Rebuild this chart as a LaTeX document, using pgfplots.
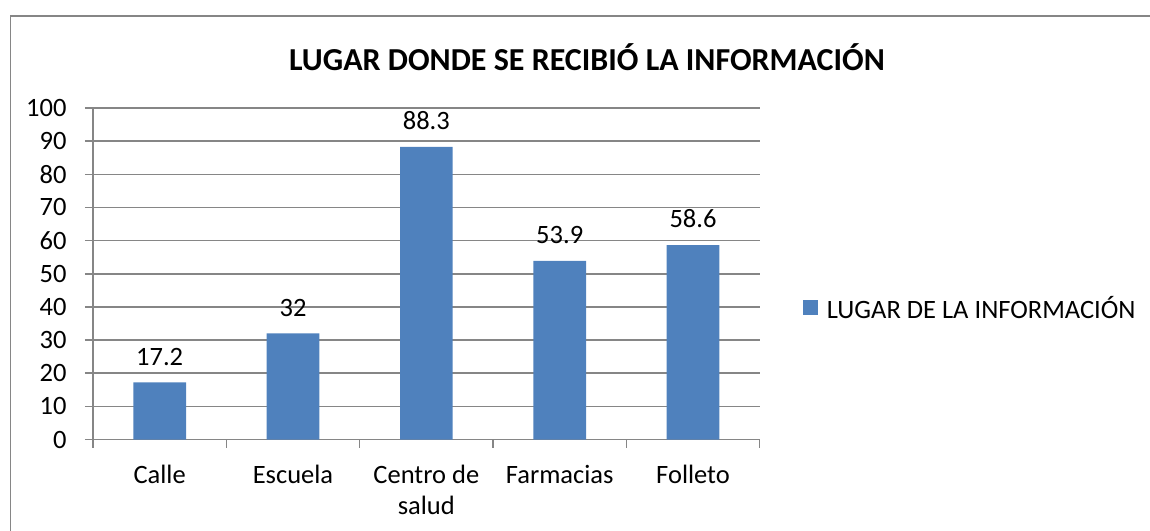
\documentclass[border=0pt]{standalone}
\usepackage{fontspec}
\setmainfont{Carlito}
\usepackage{pgfplots}
\pgfplotsset{compat=1.18}
\definecolor{barblue}{HTML}{4F81BD}
\definecolor{gridgray}{HTML}{868686}
\newcommand\lbl{\fontsize{26.5bp}{31bp}\selectfont}
\begin{document}
\begin{tikzpicture}
\path[use as bounding box] (0,0) rectangle (1150bp,-531bp);
\draw[gridgray, line width=1.5bp] (10.5bp,-540bp) -- (10.5bp,-16bp) -- (1160bp,-16bp);
\node[font=\fontsize{32bp}{38bp}\selectfont\bfseries] at (587bp,-57bp) {LUGAR DONDE SE RECIBIÓ LA INFORMACIÓN};
\begin{axis}[
  at={(93bp,-439.5bp)}, anchor=south west,
  scale only axis, width=666.7bp, height=331.5bp,
  xmin=-0.5, xmax=4.5, ymin=0, ymax=100,
  axis x line=bottom, axis y line=left,
  axis line style={-, gridgray, line width=1.5bp},
  ytick={0,10,...,100},
  ymajorgrids, grid style={gridgray, line width=1.5bp},
  xtick={0,...,4},
  xticklabels={Calle, Escuela, {Centro de\\salud}, Farmacias, Folleto},
  minor xtick={-0.5,0.5,...,4.5},
  tick align=outside,
  major tick length=8bp, minor tick length=8bp,
  major x tick style={draw=none},
  tick style={gridgray, line width=1.5bp},
  /pgf/number format/assume math mode=true,
  tick label style={font=\lbl, text=black},
  xticklabel style={align=center, yshift=-14bp},
  yticklabel style={xshift=-15bp},
  ybar, bar width=52.7bp,
  nodes near coords,
  nodes near coords style={font=\lbl, text=black, inner sep=0pt, yshift=17bp, /pgf/number format/fixed},
  legend style={at={(1.0645,0.397)}, anchor=west, draw=none, font=\lbl, inner sep=0pt,
    /tikz/every odd column/.append style={column sep=7bp}},
  legend image code/.code={\fill[barblue] (0bp,-7.5bp) rectangle (15bp,7.5bp);},
]
\addplot[fill=barblue, draw=none] coordinates {(0,17.2) (1,32) (2,88.3) (3,53.9) (4,58.6)};
\addlegendentry{LUGAR DE LA INFORMACIÓN}
\end{axis}
\end{tikzpicture}
\end{document}
